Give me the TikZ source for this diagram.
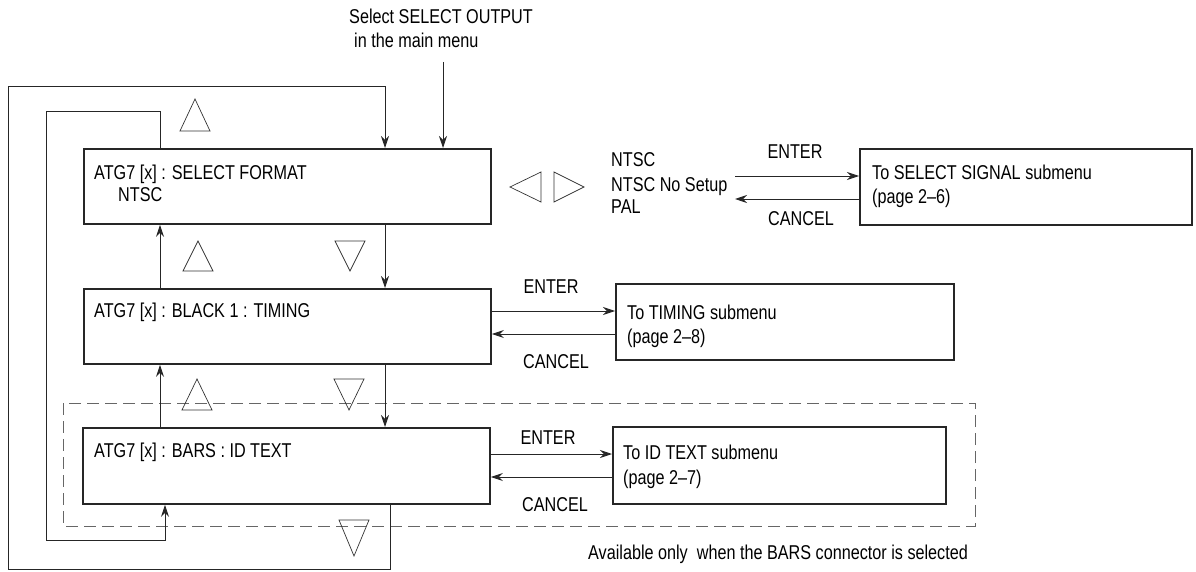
\documentclass[tikz,border=0pt]{standalone}
\usepackage{fontspec}
\setmainfont{Liberation Sans}[FakeStretch=0.81]
\usetikzlibrary{arrows.meta}

\begin{document}
\begin{tikzpicture}[x=1pt,y=-1pt]
	% Styles
	\tikzstyle{fleche}=[-{Stealth[length=12pt,width=8pt]},line width=0.9pt,black!85]
	\tikzstyle{boite}=[draw,line width=1.8pt,black!85,anchor=north west,inner sep=0pt]
	\tikzstyle{texte}=[font=\fontsize{20}{24}\selectfont,inner sep=0pt,anchor=base west]
	\tikzstyle{touche}=[font=\fontsize{20}{24}\selectfont,inner sep=0pt]
	\tikzstyle{triangle}=[draw=black!80,line width=0.7pt,line join=miter]
	\tikzstyle{cadre}=[draw=black!60,line width=0.9pt,dash pattern=on 12pt off 6pt]
	% Cadre
	\useasboundingbox (0,0) rectangle (1196,572);
	\draw[cadre] (63,403) rectangle (975,526);
	% Boites
	\node[boite,minimum width=407pt,minimum height=75pt] (fmt) at (83,148) {};
	\node[boite,minimum width=407pt,minimum height=75pt] (timing) at (83,288) {};
	\node[boite,minimum width=407pt,minimum height=76pt] (ids) at (82,427) {};
	\node[boite,minimum width=332pt,minimum height=76pt] (ssig) at (859,148) {};
	\node[boite,minimum width=338pt,minimum height=76pt] (stim) at (615,283) {};
	\node[boite,minimum width=333pt,minimum height=77pt] (sid) at (612,426) {};
	% Textes
	\node[texte] (menu1) at (349,24) {Select SELECT OUTPUT};
	\node[texte] (menu2) at (354,48) {in the main menu};
	\node[texte] (fmt1) at (94,179) {ATG7 [x] : SELECT FORMAT};
	\node[texte] (fmt2) at (118,202) {NTSC};
	\node[texte] (timing1) at (94,317) {ATG7 [x] : BLACK 1 : TIMING};
	\node[texte] (ids1) at (94,457) {ATG7 [x] : BARS : ID TEXT};
	\node[texte] (liste1) at (611,167) {NTSC};
	\node[texte] (liste2) at (611,192) {NTSC No Setup};
	\node[texte] (liste3) at (611,214) {PAL};
	\node[texte] (ssig1) at (872,180) {To SELECT SIGNAL submenu};
	\node[texte] (ssig2) at (872,204) {(page 2–6)};
	\node[texte] (stim1) at (627,319) {To TIMING submenu};
	\node[texte] (stim2) at (627,343) {(page 2–8)};
	\node[texte] (sid1) at (623,459) {To ID TEXT submenu};
	\node[texte] (sid2) at (623,484) {(page 2–7)};
	\node[texte] (note) at (588,559) {Available only\ \ when the BARS connector is selected};
	\node[touche] (ent1) at (795,152) {ENTER};
	\node[touche] (can1) at (801,219) {CANCEL};
	\node[touche] (ent2) at (551,287) {ENTER};
	\node[touche] (can2) at (556,362) {CANCEL};
	\node[touche] (ent3) at (548,438) {ENTER};
	\node[touche] (can3) at (555,505) {CANCEL};
	% Triangles
	\draw[triangle] (180,131) -- (195,99) -- (210,131) -- cycle;
	\draw[triangle] (183,271) -- (198,241) -- (213,271) -- cycle;
	\draw[triangle] (335,241) -- (350,271) -- (365,241) -- cycle;
	\draw[triangle] (182,410) -- (197,379) -- (212,410) -- cycle;
	\draw[triangle] (334,379) -- (349,410) -- (364,379) -- cycle;
	\draw[triangle] (339,520) -- (354,556) -- (369,520) -- cycle;
	\draw[triangle] (541,172) -- (510,187) -- (541,202) -- cycle;
	\draw[triangle] (554,172) -- (584,187) -- (554,202) -- cycle;
	% Points
	\coordinate (xdesc) at (385,0);
	\coordinate (xmont) at (160,0);
	\coordinate (xsort) at (390,0);
	\coordinate (xboucle) at (165,0);
	\coordinate (entree) at (443,62);
	\coordinate (h1) at (735,176);
	\coordinate (b1) at (735,199);
	\coordinate (h2) at (0,311);
	\coordinate (b2) at (0,334);
	\coordinate (h3) at (0,454);
	\coordinate (b3) at (0,477);
	% Fleches
	\draw[fleche] (entree) -- (entree |- fmt.north);
	\draw[fleche] (fmt.south -| xdesc) -- (timing.north -| xdesc);
	\draw[fleche] (timing.south -| xdesc) -- (ids.north -| xdesc);
	\draw[fleche] (timing.north -| xmont) -- (fmt.south -| xmont);
	\draw[fleche] (ids.north -| xmont) -- (timing.south -| xmont);
	\draw[fleche] (ids.south -| xsort) -- (390,569) -| (8,86) -| (fmt.north -| xdesc);
	\draw[fleche] (fmt.north -| xmont) |- (46,111) |- (165,540) -- (ids.south -| xboucle);
	\draw[fleche] (h1) -- (ssig.west |- h1);
	\draw[fleche] (ssig.west |- b1) -- (b1);
	\draw[fleche] (timing.east |- h2) -- (stim.west |- h2);
	\draw[fleche] (stim.west |- b2) -- (timing.east |- b2);
	\draw[fleche] (ids.east |- h3) -- (sid.west |- h3);
	\draw[fleche] (sid.west |- b3) -- (ids.east |- b3);
\end{tikzpicture}
\end{document}
